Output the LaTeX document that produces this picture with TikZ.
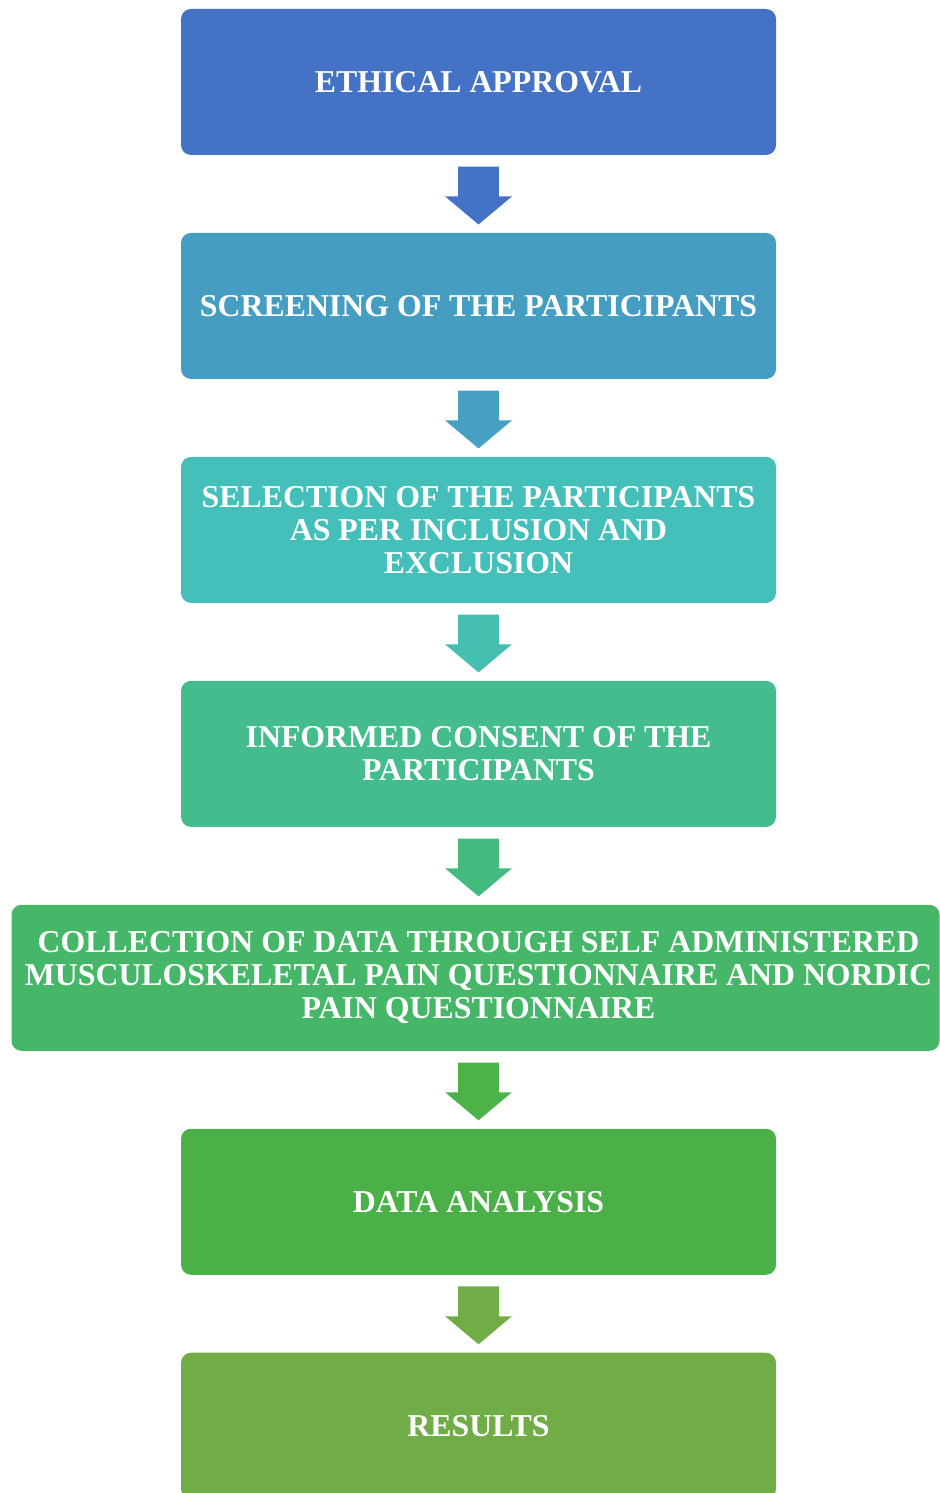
\documentclass[tikz,border=0pt]{standalone}
\usepackage{fontspec}
\setmainfont{Liberation Serif}
\usetikzlibrary{positioning,shapes.arrows}
\definecolor{cA}{HTML}{4472C4}
\definecolor{cB}{HTML}{459DC2}
\definecolor{cC}{HTML}{44BFBA}
\definecolor{cD}{HTML}{45BC8D}
\definecolor{cE}{HTML}{46B668}
\definecolor{cF}{HTML}{4CB049}
\definecolor{cG}{HTML}{70AD47}
\definecolor{aB}{HTML}{45A0C4}
\definecolor{aC}{HTML}{45BFB0}
\definecolor{aD}{HTML}{45BA7E}
\definecolor{aE}{HTML}{4BB347}
\begin{document}
\begin{tikzpicture}[every node/.style={font=\bfseries\fontsize{18.1}{18.7}\selectfont},
  stage/.style={fill=#1,rounded corners=0.2cm,text=white,align=center,
    minimum width=11.9cm,minimum height=2.92cm,inner sep=0pt},
  down/.style={single arrow,fill=#1,shape border rotate=270,inner sep=0.4cm,
    minimum height=1.12cm,single arrow head extend=0.26cm,
    single arrow tip angle=100,anchor=tail},
  node distance=1.545cm]
\useasboundingbox (0,0) rectangle (18.8,-29.86);
%------------- stages
\node[stage=cA] (ethics) at (9.57,-1.64) {ETHICAL APPROVAL};
\node[stage=cB,below=of ethics] (screen) {SCREENING OF THE PARTICIPANTS};
\node[stage=cC,below=of screen] (select) {SELECTION OF THE PARTICIPANTS\\AS PER INCLUSION AND\\EXCLUSION};
\node[stage=cD,below=of select] (consent) {INFORMED CONSENT OF THE\\PARTICIPANTS};
\node[stage=cE,below=of consent,minimum width=18.56cm,xshift=-0.06cm] (collect) {\hspace{0.12cm}COLLECTION OF DATA THROUGH SELF ADMINISTERED\\\hspace{0.12cm}MUSCULOSKELETAL PAIN QUESTIONNAIRE AND NORDIC\\\hspace{0.12cm}PAIN QUESTIONNAIRE};
\node[stage=cF,below=of collect,xshift=0.06cm] (analysis) {DATA ANALYSIS};
\node[stage=cG,below=of analysis] (results) {RESULTS};
%------------- arrows
\node[down=cA] (a1) at ([yshift=-0.22cm]ethics.south) {};
\node[down=aB] (a2) at ([yshift=-0.22cm]screen.south) {};
\node[down=aC] (a3) at ([yshift=-0.22cm]select.south) {};
\node[down=aD] (a4) at ([yshift=-0.22cm]consent.south) {};
\node[down=aE] (a5) at ([yshift=-0.22cm]collect.south -| consent.south) {};
\node[down=cG] (a6) at ([yshift=-0.22cm]analysis.south) {};
\end{tikzpicture}
\end{document}
